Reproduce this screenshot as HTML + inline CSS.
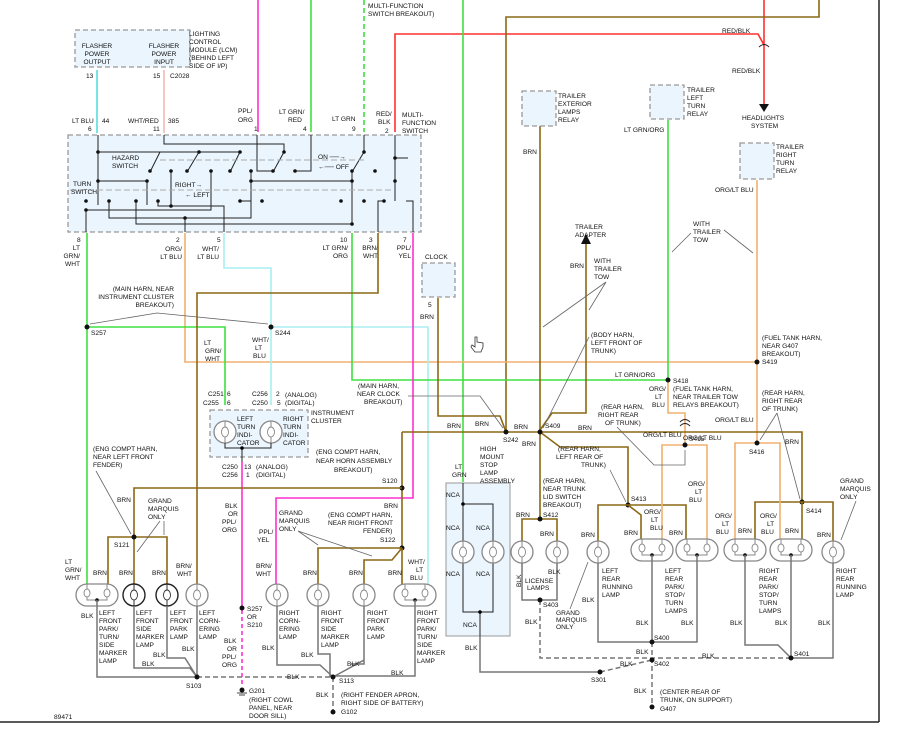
<!DOCTYPE html>
<html><head><meta charset="utf-8"><style>
html,body{margin:0;padding:0;background:#fff;}
svg{display:block;}
text{font-family:"Liberation Sans",Arial,sans-serif;font-size:6.6px;fill:#111;}
.w{fill:none;stroke-width:1.6;}
.br{stroke:#8b6914;}
.gn{stroke:#3ee03e;}
.lb{stroke:#55dde0;}
.pk{stroke:#ff30d0;}
.rd{stroke:#ff3030;}
.og{stroke:#f0b070;}
.lbl{stroke:#a8eef0;}
.bk{stroke:#777;stroke-width:1.5;fill:none;}
.bd{stroke:#777;stroke-width:1.5;fill:none;stroke-dasharray:5,3;}
.k{stroke:#222;stroke-width:1;fill:none;}
.box{fill:#eaf5fd;stroke:#999;stroke-width:1.3;stroke-dasharray:5,3;}
.ptr{stroke:#666;stroke-width:0.8;fill:none;}
</style></head><body>
<svg width="901" height="732" viewBox="0 0 901 732" xmlns="http://www.w3.org/2000/svg">
<defs>
<g id="lamp"><circle r="11" fill="#fff" stroke="#888" stroke-width="1.3"/><ellipse cx="0" cy="0" rx="3.5" ry="5" fill="none" stroke="#888" stroke-width="0.9"/><line x1="0" y1="-11" x2="0" y2="-5" stroke="#888"/><line x1="0" y1="5" x2="0" y2="11" stroke="#888"/></g>
<g id="dlamp"><circle r="11" fill="#fff" stroke="#222" stroke-width="1.4"/><ellipse cx="0" cy="0" rx="3.5" ry="5" fill="none" stroke="#333" stroke-width="0.9"/><line x1="0" y1="-11" x2="0" y2="-5" stroke="#333"/><line x1="0" y1="5" x2="0" y2="11" stroke="#333"/></g>
<g id="twin"><rect x="-21" y="-11" width="42" height="22" rx="11" fill="#fff" stroke="#888" stroke-width="1.3"/><ellipse cx="-10" cy="-2" rx="3" ry="4" fill="none" stroke="#888" stroke-width="0.9"/><ellipse cx="10" cy="-2" rx="3" ry="4" fill="none" stroke="#888" stroke-width="0.9"/><path d="M-10 -11 V-6 M10 -11 V-6 M-10 2 V5 H10 V2" stroke="#888" fill="none"/><circle cx="0" cy="5" r="1.8" fill="#111"/></g>
</defs>

<!-- border -->
<line x1="879" y1="0" x2="879" y2="722" stroke="#222" stroke-width="1.5"/>
<line x1="0" y1="722" x2="879" y2="722" stroke="#222" stroke-width="1.5"/>
<text x="54" y="719">89471</text>

<!-- top wires -->
<path class="w pk" d="M258 0 V132"/>
<path class="w gn" d="M311 0 V132"/>
<path class="w gn" d="M364 0 V132" stroke-dasharray="5,3"/>
<path class="w rd" d="M395 132 V34 H758 L764 45"/>
<path class="w rd" d="M764 0 V104"/>
<polygon points="759,104 769,104 764,112" fill="#111"/>
<path class="w br" d="M506 432 V17 H819 V0"/>
<path class="w gn" d="M463 0 V482"/>
<text x="368" y="8">MULTI-FUNCTION</text><text x="368" y="16">SWITCH BREAKOUT)</text>
<text x="722" y="33">RED/BLK</text>
<text x="732" y="73">RED/BLK</text>
<text x="742" y="120">HEADLIGHTS</text><text x="751" y="128">SYSTEM</text>
<path d="M759 47 Q764 42 769 47" class="k"/>

<!-- LCM -->
<rect class="box" x="75" y="30" width="115" height="37"/>
<text x="97" y="48" text-anchor="middle">FLASHER</text><text x="97" y="56" text-anchor="middle">POWER</text><text x="97" y="64" text-anchor="middle">OUTPUT</text>
<text x="164" y="48" text-anchor="middle">FLASHER</text><text x="164" y="56" text-anchor="middle">POWER</text><text x="164" y="64" text-anchor="middle">INPUT</text>
<text x="189" y="36">LIGHTING</text><text x="189" y="44">CONTROL</text><text x="189" y="52">MODULE (LCM)</text><text x="189" y="60">(BEHIND LEFT</text><text x="189" y="68">SIDE OF I/P)</text>
<text x="86" y="78">13</text><text x="153" y="78">15</text><text x="170" y="78">C2028</text>
<path class="w lb" d="M97 70 V133"/>
<path class="w" stroke="#f5b8b8" d="M164 70 V133"/>

<text x="72" y="123">LT BLU</text><text x="102" y="123">44</text><text x="88" y="131">6</text>
<text x="128" y="123">WHT/RED</text><text x="168" y="123">385</text><text x="153" y="131">11</text>
<text x="238" y="113">PPL/</text><text x="238" y="122">ORG</text><text x="254" y="131">1</text>
<text x="279" y="114">LT GRN/</text><text x="288" y="122">RED</text><text x="303" y="131">4</text>
<text x="332" y="121">LT GRN</text><text x="352" y="131">9</text>
<text x="376" y="116">RED/</text><text x="378" y="124">BLK</text><text x="385" y="133">2</text>
<text x="402" y="117">MULTI-</text><text x="402" y="125">FUNCTION</text><text x="402" y="133">SWITCH</text>

<!-- switch box -->
<rect class="box" x="68" y="135" width="353" height="97"/>
<g class="k">
<path d="M98 135 V205 M98 152 H240 M164 135 V144 H284 V152 M257 135 V171 H273 M311 135 V171 H295 M364 135 V152"/>
<path d="M160 152 L150 172 M199 152 L187 172 M240 152 L230 172 M284 152 L273 172 M364 152 L352 172"/>
<path d="M98 181 H147 V205 M251 181 H352 M171 171 V206 M158 201 V206 H224 V232 M211 171 V210 H86 V232 M109 201 V218 H251 V171 M136 201 V224 H352 V171 M185 218 V232 M395 135 V201 M395 158 H408 M378 232 V201 H384 M406 201 H413 V232 M240 201 H251"/>
</g>
<path d="M160 160 H364 M70 190 H393" stroke="#aaa" stroke-dasharray="6,3" fill="none"/>
<g fill="#111">
<circle cx="98" cy="152" r="1.8"/><circle cx="199" cy="152" r="1.8"/><circle cx="240" cy="152" r="1.8"/><circle cx="284" cy="152" r="1.8"/><circle cx="364" cy="152" r="1.8"/>
<circle cx="150" cy="171" r="1.8"/><circle cx="171" cy="171" r="1.8"/><circle cx="187" cy="171" r="1.8"/><circle cx="211" cy="171" r="1.8"/><circle cx="230" cy="171" r="1.8"/><circle cx="251" cy="171" r="1.8"/><circle cx="273" cy="171" r="1.8"/><circle cx="295" cy="171" r="1.8"/><circle cx="352" cy="171" r="1.8"/><circle cx="375" cy="171" r="1.8"/>
<circle cx="98" cy="181" r="1.8"/><circle cx="147" cy="181" r="1.8"/><circle cx="251" cy="181" r="1.8"/><circle cx="352" cy="181" r="1.8"/><circle cx="395" cy="181" r="1.8"/>
<circle cx="86" cy="201" r="1.8"/><circle cx="109" cy="201" r="1.8"/><circle cx="136" cy="201" r="1.8"/><circle cx="158" cy="201" r="1.8"/><circle cx="240" cy="201" r="1.8"/><circle cx="262" cy="201" r="1.8"/><circle cx="341" cy="201" r="1.8"/><circle cx="364" cy="201" r="1.8"/><circle cx="384" cy="201" r="1.8"/>
<circle cx="86" cy="210" r="1.8"/><circle cx="171" cy="206" r="1.8"/><circle cx="185" cy="218" r="1.8"/><circle cx="352" cy="224" r="1.8"/><circle cx="395" cy="158" r="1.8"/>
</g>
<text x="112" y="160">HAZARD</text><text x="112" y="168">SWITCH</text>
<text x="73" y="186">TURN</text><text x="71" y="194">SWITCH</text>
<text x="175" y="187">RIGHT→</text><text x="185" y="197">← LEFT</text>
<text x="318" y="159">ON ──→</text><text x="318" y="169">←── OFF</text>

<!-- pin labels under switch -->
<text x="77" y="242">8</text><text x="80" y="250" text-anchor="end">LT</text><text x="80" y="258" text-anchor="end">GRN/</text><text x="80" y="266" text-anchor="end">WHT</text>
<text x="176" y="242">2</text><text x="182" y="251" text-anchor="end">ORG/</text><text x="182" y="259" text-anchor="end">LT BLU</text>
<text x="217" y="242">5</text><text x="219" y="251" text-anchor="end">WHT/</text><text x="219" y="259" text-anchor="end">LT BLU</text>
<text x="340" y="242">10</text><text x="348" y="250" text-anchor="end">LT GRN/</text><text x="348" y="258" text-anchor="end">ORG</text>
<text x="369" y="242">3</text><text x="378" y="250" text-anchor="end">BRN/</text><text x="378" y="258" text-anchor="end">WHT</text>
<text x="403" y="242">7</text><text x="411" y="250" text-anchor="end">PPL/</text><text x="411" y="258" text-anchor="end">YEL</text>

<!-- lower wires from switch -->
<path class="w gn" d="M87 233 V584"/>
<path class="w og" d="M185 233 V362 H757"/>
<path class="w lbl" d="M224 233 V268 H271 V405"/>
<path class="w lbl" d="M271 327 H428 V584"/>
<path class="w gn" d="M87 327 H225 V405"/>
<path class="w gn" d="M352 233 V380 H668 V120"/>
<path class="w br" d="M378 233 V293 H197 V584"/>
<path class="w pk" d="M413 233 V498 H276 V584"/>
<path class="w og" d="M757 180 V443"/>
<path class="w og" d="M668 380 V413 H685 V443"/>

<g fill="#111"><circle cx="87" cy="327" r="2.5"/><circle cx="271" cy="327" r="2.5"/><circle cx="757" cy="362" r="2.5"/><circle cx="668" cy="380" r="2.5"/></g>
<text x="91" y="335">S257</text><text x="275" y="335">S244</text>
<text x="174" y="291" text-anchor="end">(MAIN HARN, NEAR</text><text x="174" y="299" text-anchor="end">INSTRUMENT CLUSTER</text><text x="174" y="307" text-anchor="end">BREAKOUT)</text>
<path class="ptr" d="M90 324 L157 313 L268 324"/>
<text x="204" y="345">LT</text><text x="205" y="353">GRN/</text><text x="205" y="361">WHT</text>
<text x="252" y="342">WHT/</text><text x="255" y="350">LT</text><text x="253" y="358">BLU</text>
<text x="762" y="340">(FUEL TANK HARN,</text><text x="762" y="348">NEAR G407</text><text x="762" y="356">BREAKOUT)</text><text x="762" y="364">S419</text>
<text x="615" y="377">LT GRN/ORG</text><text x="673" y="383">S418</text>
<text x="649" y="391">ORG/</text><text x="655" y="399">LT</text><text x="652" y="407">BLU</text>
<text x="673" y="391">(FUEL TANK HARN,</text><text x="673" y="399">NEAR TRAILER TOW</text><text x="673" y="407">RELAYS BREAKOUT)</text>

<!-- clock -->
<rect class="box" x="422" y="263" width="33" height="34"/>
<text x="425" y="259">CLOCK</text><text x="428" y="307">5</text><text x="420" y="319">BRN</text>
<path class="w br" d="M438 298 V416 H500 L506 432"/>
<text x="358" y="388">(MAIN HARN,</text><text x="357" y="396">NEAR CLOCK</text><text x="364" y="404">BREAKOUT)</text>
<path class="ptr" d="M408 396 H480 L503 428"/>

<!-- brown trunk -->
<path class="w br" d="M402 432 H802 V502"/>
<path class="w br" d="M402 432 V548"/>
<path class="w br" d="M540 126 V519"/>
<path class="w br" d="M586 244 V413 H552 L540 430"/>
<polygon points="581,244 591,244 586,234" fill="#111"/>
<path class="w br" d="M540 432 L560 447 H628 V505"/>
<g fill="#111"><circle cx="506" cy="432" r="2.5"/><circle cx="540" cy="432" r="2.5"/><circle cx="402" cy="488" r="2.5"/><circle cx="402" cy="548" r="2.5"/></g>
<text x="447" y="428">BRN</text><text x="514" y="429">BRN</text><text x="578" y="430">BRN</text><text x="503" y="442">S242</text><text x="545" y="428">S409</text><text x="522" y="446">BRN</text>
<text x="475" y="426">BRN</text>

<!-- trailer relays -->
<rect class="box" x="522" y="91" width="34" height="35"/>
<text x="558" y="98">TRAILER</text><text x="558" y="106">EXTERIOR</text><text x="558" y="114">LAMPS</text><text x="558" y="122">RELAY</text>
<text x="523" y="154">BRN</text>
<rect class="box" x="650" y="85" width="34" height="34"/>
<text x="687" y="92">TRAILER</text><text x="687" y="100">LEFT</text><text x="687" y="108">TURN</text><text x="687" y="116">RELAY</text>
<text x="624" y="132">LT GRN/ORG</text>
<rect class="box" x="740" y="143" width="34" height="36"/>
<text x="776" y="149">TRAILER</text><text x="776" y="157">RIGHT</text><text x="776" y="165">TURN</text><text x="776" y="173">RELAY</text>
<text x="715" y="192">ORG/LT BLU</text>
<text x="575" y="229">TRAILER</text><text x="575" y="237">ADAPTER</text>
<text x="570" y="268">BRN</text>
<text x="594" y="263">WITH</text><text x="594" y="271">TRAILER</text><text x="594" y="279">TOW</text>
<path class="ptr" d="M606 282 L543 327 M606 282 L589 310"/>
<text x="693" y="226">WITH</text><text x="693" y="234">TRAILER</text><text x="693" y="242">TOW</text>
<path class="ptr" d="M691 233 L672 252 M724 230 L753 253"/>
<text x="591" y="337">(BODY HARN,</text><text x="591" y="345">LEFT FRONT OF</text><text x="591" y="353">TRUNK)</text>
<path class="ptr" d="M589 337 L543 428"/>

<!-- cursor -->
<path d="M475 337 v10 l-3 -2 l-1 2 l4 5 h6 l2 -5 v-4 l-6 -1 v-5 z" fill="#fff" stroke="#333" stroke-width="0.8"/>

<!-- cluster -->
<rect class="box" x="210" y="410" width="98" height="47"/>
<text x="208" y="396">C251</text><text x="227" y="396">6</text><text x="203" y="405">C255</text><text x="227" y="405">6</text>
<text x="252" y="396">C256</text><text x="276" y="396">2</text><text x="252" y="405">C250</text><text x="277" y="405">5</text>
<text x="285" y="397">(ANALOG)</text><text x="285" y="405">(DIGITAL)</text>
<text x="311" y="415">INSTRUMENT</text><text x="311" y="423">CLUSTER</text>
<use href="#lamp" x="225" y="432"/><use href="#lamp" x="271" y="432"/>
<text x="237" y="421">LEFT</text><text x="237" y="429">TURN</text><text x="237" y="437">INDI-</text><text x="237" y="445">CATOR</text>
<text x="283" y="421">RIGHT</text><text x="283" y="429">TURN</text><text x="283" y="437">INDI-</text><text x="283" y="445">CATOR</text>
<path class="k" d="M225 443 V448 H271 V443 M242 448 V462"/><circle cx="242" cy="448" r="1.8"/>
<text x="222" y="469">C250</text><text x="244" y="469">13</text><text x="222" y="477">C256</text><text x="246" y="477">1</text>
<text x="256" y="469">(ANALOG)</text><text x="256" y="477">(DIGITAL)</text>
<path class="w pk" d="M242 462 V610"/><path class="w pk" d="M242 610 V686" stroke-dasharray="4,3"/>
<text x="225" y="508">BLK</text><text x="228" y="516">OR</text><text x="222" y="524">PPL/</text><text x="222" y="532">ORG</text>
<circle cx="242" cy="608" r="2.5" fill="#111"/><text x="247" y="611">S257</text><text x="247" y="619">OR</text><text x="247" y="627">S210</text>
<text x="224" y="643">BLK</text><text x="227" y="651">OR</text><text x="222" y="659">PPL/</text><text x="222" y="667">ORG</text>
<circle cx="242" cy="690" r="2.5" fill="#111"/><path d="M237 693 h10 M239 695 h6" stroke="#444"/>
<text x="249" y="693">G201</text><text x="249" y="702">(RIGHT COWL</text><text x="249" y="710">PANEL, NEAR</text><text x="249" y="718">DOOR SILL)</text>

<!-- front harness -->
<path class="w br" d="M402 488 H134 V584"/>
<path class="w br" d="M108 584 V537 H167 V584"/>
<path class="w br" d="M402 548 H318 V584"/>
<path class="w br" d="M402 548 L392 560 H364 V584"/>
<path class="w br" d="M402 548 V584"/>
<circle cx="134" cy="537" r="2.5" fill="#111"/>
<text x="316" y="454" text-anchor="start">(ENG COMPT HARN,</text><text x="316" y="463">NEAR HORN ASSEMBLY</text><text x="334" y="472">BREAKOUT)</text><text x="382" y="483">S120</text>
<text x="93" y="451">(ENG COMPT HARN,</text><text x="93" y="459">NEAR LEFT FRONT</text><text x="93" y="467">FENDER)</text>
<path class="ptr" d="M96 471 L131 534"/>
<text x="117" y="502">BRN</text><text x="148" y="503">GRAND</text><text x="148" y="511">MARQUIS</text><text x="148" y="519">ONLY</text>
<path class="ptr" d="M164 521 L164 535 M160 521 L137 552"/>
<text x="114" y="547">S121</text>
<text x="384" y="508">BRN</text>
<text x="328" y="517">(ENG COMPT HARN,</text><text x="328" y="525">NEAR RIGHT FRONT</text><text x="363" y="533">FENDER)</text><text x="380" y="542">S122</text>
<text x="279" y="515">GRAND</text><text x="279" y="523">MARQUIS</text><text x="279" y="531">ONLY</text>
<path class="ptr" d="M298 531 L318 545 M298 531 L372 556"/>
<text x="259" y="534">PPL/</text><text x="257" y="542">YEL</text>

<text x="65" y="564">LT</text><text x="65" y="572">GRN/</text><text x="65" y="580">WHT</text>
<text x="93" y="575">BRN</text><text x="119" y="575">BRN</text><text x="152" y="575">BRN</text><text x="176" y="568">BRN/</text><text x="177" y="576">WHT</text>
<text x="256" y="568">BRN/</text><text x="256" y="576">WHT</text><text x="303" y="575">BRN</text><text x="349" y="575">BRN</text><text x="388" y="575">BRN</text>
<text x="408" y="564">WHT/</text><text x="416" y="572">LT</text><text x="410" y="580">BLU</text>

<use href="#twin" x="97" y="595"/>
<use href="#dlamp" x="134" y="595"/><use href="#dlamp" x="167" y="595"/><use href="#lamp" x="197" y="595"/>
<use href="#lamp" x="277" y="595"/><use href="#lamp" x="318" y="595"/><use href="#lamp" x="364" y="595"/><use href="#twin" x="415" y="595"/>

<path class="bk" d="M97 600 V677 H197 M134 606 V668 H190 L197 677 M167 606 V658 H185 L197 677 M197 606 V677"/>
<path class="bk" d="M277 606 V665 H320 L333 677 M318 606 V654 H330 V677 M364 606 V664 L351 664 M364 606 V660 L333 677 M415 600 V676 H333"/>
<path class="bd" d="M197 677 H333 M333 677 V710"/>
<g fill="#111"><circle cx="197" cy="677" r="2.5"/><circle cx="333" cy="677" r="2.5"/><circle cx="333" cy="712" r="2.5"/></g>
<text x="186" y="688">S103</text><text x="339" y="683">S113</text>
<text x="316" y="697">BLK</text><text x="341" y="697">(RIGHT FENDER APRON,</text><text x="341" y="705">RIGHT SIDE OF BATTERY)</text><text x="341" y="714">G102</text>
<text x="81" y="618">BLK</text>
<text x="99" y="615">LEFT</text><text x="99" y="623">FRONT</text><text x="99" y="631">PARK/</text><text x="99" y="639">TURN/</text><text x="99" y="647">SIDE</text><text x="99" y="655">MARKER</text><text x="99" y="663">LAMP</text>
<text x="136" y="615">LEFT</text><text x="136" y="623">FRONT</text><text x="136" y="631">SIDE</text><text x="136" y="639">MARKER</text><text x="136" y="647">LAMP</text>
<text x="170" y="615">LEFT</text><text x="170" y="623">FRONT</text><text x="170" y="631">PARK</text><text x="170" y="639">LAMP</text>
<text x="199" y="615">LEFT</text><text x="199" y="623">CORN-</text><text x="199" y="631">ERING</text><text x="199" y="639">LAMP</text>
<text x="153" y="657">BLK</text><text x="142" y="666">BLK</text><text x="182" y="651">BLK</text><text x="287" y="679">BLK</text>
<text x="279" y="615">RIGHT</text><text x="279" y="623">CORN-</text><text x="279" y="631">ERING</text><text x="279" y="639">LAMP</text>
<text x="321" y="615">RIGHT</text><text x="321" y="623">FRONT</text><text x="321" y="631">SIDE</text><text x="321" y="639">MARKER</text><text x="321" y="647">LAMP</text>
<text x="367" y="615">RIGHT</text><text x="367" y="623">FRONT</text><text x="367" y="631">PARK</text><text x="367" y="639">LAMP</text>
<text x="417" y="615">RIGHT</text><text x="417" y="623">FRONT</text><text x="417" y="631">PARK/</text><text x="417" y="639">TURN/</text><text x="417" y="647">SIDE</text><text x="417" y="655">MARKER</text><text x="417" y="663">LAMP</text>
<text x="262" y="650">BLK</text><text x="301" y="657">BLK</text><text x="347" y="666">BLK</text><text x="391" y="675">BLK</text>

<!-- high mount -->
<rect x="446" y="483" width="64" height="153" fill="#eaf5fd" stroke="#999" stroke-width="1"/>
<text x="455" y="469">LT</text><text x="452" y="477">GRN</text>
<text x="480" y="451">HIGH</text><text x="480" y="459">MOUNT</text><text x="480" y="467">STOP</text><text x="480" y="475">LAMP</text><text x="480" y="483">ASSEMBLY</text>
<path class="k" d="M463 483 V541 M463 504 H493 V541 M463 563 V612 H493 V563 M480 612 V636" stroke-width="1.4"/>
<circle cx="463" cy="504" r="1.8"/><circle cx="480" cy="612" r="1.8"/>
<use href="#lamp" x="463" y="552"/><use href="#lamp" x="493" y="552"/>
<text x="446" y="497">NCA</text><text x="446" y="530">NCA</text><text x="476" y="530">NCA</text><text x="446" y="576">NCA</text><text x="476" y="576">NCA</text><text x="463" y="627">NCA</text>
<path class="bk" d="M480 636 V672 H600"/><text x="465" y="650">BLK</text>

<!-- rear lamps wiring -->
<path class="w br" d="M522 541 V519 H557 V541"/>
<circle cx="540" cy="519" r="2.5" fill="#111"/><circle cx="628" cy="505" r="2.5" fill="#111"/><circle cx="802" cy="502" r="2.5" fill="#111"/>
<path class="w br" d="M598 541 V505 H686 V541 M628 505 L641 515 V541 M755 541 V502 H833 V541 M802 502 V541"/>
<path class="w og" d="M662 541 V445 H707 V541"/>
<path class="w og" d="M735 541 V443 H780 V541"/>
<g fill="#111"><circle cx="685" cy="445" r="2.5"/><circle cx="757" cy="443" r="2.5"/></g>
<path d="M680 422 Q685 417 690 422 M680 426 Q685 421 690 426" class="k"/>
<text x="601" y="409">(REAR HARN,</text><text x="598" y="417">RIGHT REAR</text><text x="605" y="425">OF TRUNK)</text>
<path class="ptr" d="M617 427 L654 465 H685 V450"/>
<text x="643" y="437">ORG/LT BLU</text><text x="683" y="440">ORG/LT BLU</text><text x="689" y="441">S415</text>
<text x="715" y="422">ORG/LT BLU</text>
<text x="762" y="395">(REAR HARN,</text><text x="762" y="403">RIGHT REAR</text><text x="762" y="411">OF TRUNK)</text>
<path class="ptr" d="M777 413 L760 440 M777 413 L800 499"/>
<text x="749" y="454">S416</text><text x="785" y="444">BRN</text>
<text x="558" y="451">(REAR HARN,</text><text x="556" y="459">LEFT REAR OF</text><text x="581" y="467">TRUNK)</text>
<path class="ptr" d="M610 470 L626 502"/>
<text x="631" y="501">S413</text><text x="806" y="513">S414</text>
<text x="543" y="483">(REAR HARN,</text><text x="543" y="491">NEAR TRUNK</text><text x="543" y="499">LID SWITCH</text><text x="543" y="507">BREAKOUT)</text>
<text x="543" y="517">S412</text><text x="516" y="517">BRN</text><text x="540" y="536">BRN</text>
<text x="581" y="537">BRN</text><text x="624" y="535">BRN</text><text x="669" y="535">BRN</text>
<text x="644" y="514">ORG/</text><text x="651" y="522">LT</text><text x="650" y="530">BLU</text>
<text x="688" y="486">ORG/</text><text x="695" y="494">LT</text><text x="689" y="502">BLU</text>
<text x="715" y="518">ORG/</text><text x="722" y="526">LT</text><text x="716" y="534">BLU</text>
<text x="760" y="518">ORG/</text><text x="767" y="526">LT</text><text x="761" y="534">BLU</text>
<text x="738" y="533">BRN</text><text x="785" y="533">BRN</text><text x="817" y="537">BRN</text>
<text x="840" y="483">GRAND</text><text x="840" y="491">MARQUIS</text><text x="840" y="499">ONLY</text>
<path class="ptr" d="M856 501 L841 540"/>

<use href="#lamp" x="522" y="552"/><use href="#lamp" x="557" y="552"/><use href="#lamp" x="598" y="552"/>
<use href="#twin" x="652" y="550"/><use href="#twin" x="697" y="550"/><use href="#twin" x="745" y="550"/><use href="#twin" x="791" y="550"/>
<use href="#lamp" x="833" y="552"/>

<path class="bk" d="M522 563 V600 H557 V563 M598 563 V642 H697 V555 M652 555 V642 M745 555 V645 H778 L791 658 M791 555 V658 M833 563 V658 H791"/>
<path class="bd" d="M540 600 V658 H791 M652 642 V707 M600 672 L652 660"/>
<g fill="#111"><circle cx="540" cy="600" r="2.5"/><circle cx="652" cy="642" r="2.5"/><circle cx="652" cy="660" r="2.5"/><circle cx="791" cy="658" r="2.5"/><circle cx="600" cy="672" r="2.5"/><circle cx="652" cy="707" r="2.5"/></g>
<text x="515" y="581" transform="rotate(-90 521 581)">BLK</text>
<text x="548" y="574">BLK</text><text x="525" y="583">LICENSE</text><text x="527" y="590">LAMPS</text>
<text x="543" y="607">S403</text><text x="525" y="624">BLK</text>
<text x="556" y="615">GRAND</text><text x="556" y="622">MARQUIS</text><text x="556" y="629">ONLY</text>
<path class="ptr" d="M570 609 L588 562"/>
<text x="582" y="602">BLK</text>
<text x="602" y="573">LEFT</text><text x="602" y="581">REAR</text><text x="602" y="589">RUNNING</text><text x="602" y="597">LAMP</text>
<text x="665" y="573">LEFT</text><text x="665" y="581">REAR</text><text x="665" y="589">PARK/</text><text x="665" y="597">STOP/</text><text x="665" y="605">TURN</text><text x="665" y="613">LAMPS</text>
<text x="759" y="573">RIGHT</text><text x="759" y="581">REAR</text><text x="759" y="589">PARK/</text><text x="759" y="597">STOP/</text><text x="759" y="605">TURN</text><text x="759" y="613">LAMPS</text>
<text x="836" y="573">RIGHT</text><text x="836" y="581">REAR</text><text x="836" y="589">RUNNING</text><text x="836" y="597">LAMP</text>
<text x="636" y="625">BLK</text><text x="681" y="625">BLK</text><text x="730" y="625">BLK</text><text x="775" y="625">BLK</text><text x="818" y="625">BLK</text>
<text x="654" y="640">S400</text><text x="636" y="654">BLK</text><text x="702" y="658">BLK</text><text x="794" y="656">S401</text>
<text x="620" y="666">BLK</text><text x="654" y="666">S402</text><text x="591" y="682">S301</text>
<text x="634" y="693">BLK</text><text x="660" y="694">(CENTER REAR OF</text><text x="660" y="702">TRUNK, ON SUPPORT)</text><text x="660" y="711">G407</text>
</svg>
</body></html>
